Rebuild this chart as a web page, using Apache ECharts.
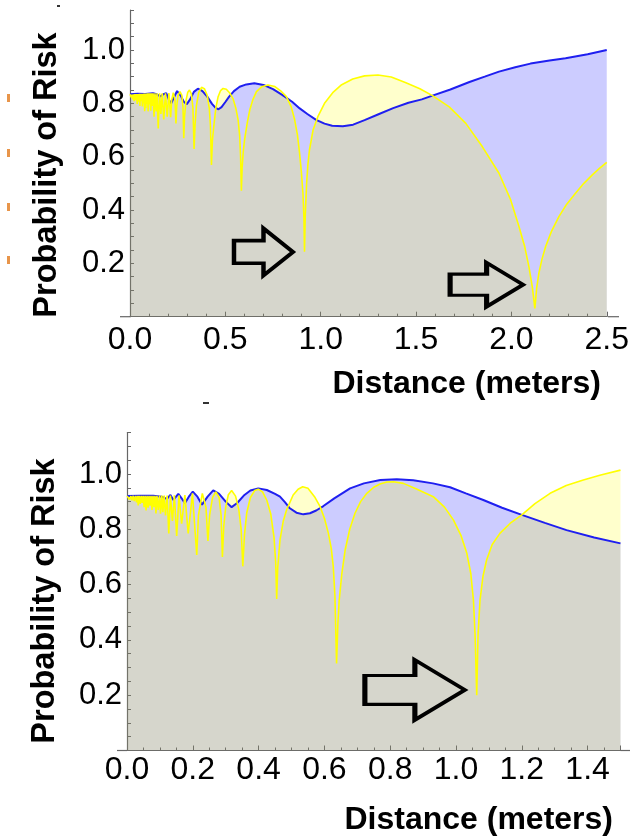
<!DOCTYPE html>
<html>
<head>
<meta charset="utf-8">
<script src="https://cdn.jsdelivr.net/npm/echarts@6/dist/echarts.min.js"></script>
<style>
  html, body { margin: 0; padding: 0; background: #fff; }
  #main { width: 632px; height: 837px; }
</style>
</head>
<body>
<div id="main"></div>
<script>
// upper plot (0 - 2.5 m)
var topBlueX = [0.000, 0.040, 0.080, 0.120, 0.140, 0.160, 0.175, 0.190, 0.205, 0.216, 0.230, 0.247, 0.265, 0.282, 0.298, 0.315, 0.335, 0.356, 0.380, 0.405, 0.430, 0.450, 0.464, 0.480, 0.500, 0.520, 0.545, 0.575, 0.610, 0.652, 0.700, 0.750, 0.800, 0.850, 0.890, 0.930, 0.976, 1.020, 1.060, 1.116, 1.170, 1.230, 1.300, 1.380, 1.460, 1.530, 1.586, 1.680, 1.780, 1.860, 1.935, 2.020, 2.100, 2.200, 2.284, 2.400, 2.500];
var topBlueY = [0.834, 0.836, 0.835, 0.838, 0.834, 0.826, 0.834, 0.838, 0.812, 0.800, 0.822, 0.846, 0.830, 0.806, 0.797, 0.815, 0.843, 0.855, 0.846, 0.825, 0.798, 0.782, 0.778, 0.786, 0.805, 0.825, 0.846, 0.862, 0.871, 0.875, 0.869, 0.853, 0.831, 0.806, 0.781, 0.760, 0.738, 0.724, 0.716, 0.714, 0.720, 0.737, 0.758, 0.782, 0.802, 0.815, 0.829, 0.852, 0.880, 0.900, 0.919, 0.935, 0.949, 0.961, 0.969, 0.984, 1.000];

var topYellowX = [0.000, 0.004, 0.007, 0.010, 0.014, 0.018, 0.022, 0.026, 0.030, 0.034, 0.038, 0.042, 0.045, 0.049, 0.052, 0.055, 0.058, 0.062, 0.065, 0.068, 0.071, 0.074, 0.077, 0.080, 0.083, 0.086, 0.089, 0.092, 0.095, 0.099, 0.102, 0.105, 0.109, 0.113, 0.117, 0.121, 0.126, 0.131, 0.137, 0.142, 0.148, 0.155, 0.162, 0.169, 0.177, 0.186, 0.195, 0.204, 0.213, 0.218, 0.227, 0.236, 0.241, 0.245, 0.252, 0.262, 0.272, 0.278, 0.282, 0.286, 0.294, 0.303, 0.312, 0.322, 0.330, 0.336, 0.341, 0.348, 0.360, 0.375, 0.390, 0.405, 0.416, 0.422, 0.427, 0.432, 0.439, 0.450, 0.462, 0.475, 0.488, 0.505, 0.522, 0.540, 0.555, 0.567, 0.575, 0.580, 0.584, 0.588, 0.594, 0.601, 0.615, 0.628, 0.645, 0.663, 0.690, 0.723, 0.760, 0.790, 0.820, 0.845, 0.863, 0.878, 0.889, 0.899, 0.907, 0.912, 0.915, 0.919, 0.926, 0.933, 0.941, 0.960, 0.985, 1.020, 1.063, 1.110, 1.168, 1.230, 1.300, 1.370, 1.447, 1.520, 1.586, 1.674, 1.761, 1.848, 1.935, 1.995, 2.040, 2.070, 2.092, 2.110, 2.123, 2.132, 2.144, 2.160, 2.179, 2.210, 2.249, 2.290, 2.336, 2.380, 2.423, 2.460, 2.500];
var topYellowY = [0.834, 0.832, 0.822, 0.833, 0.815, 0.834, 0.808, 0.835, 0.812, 0.835, 0.798, 0.835, 0.806, 0.836, 0.790, 0.836, 0.808, 0.836, 0.788, 0.836, 0.800, 0.837, 0.770, 0.837, 0.782, 0.837, 0.798, 0.838, 0.770, 0.838, 0.796, 0.838, 0.772, 0.838, 0.790, 0.838, 0.750, 0.838, 0.770, 0.838, 0.706, 0.838, 0.760, 0.838, 0.740, 0.838, 0.750, 0.839, 0.748, 0.810, 0.840, 0.812, 0.725, 0.790, 0.830, 0.844, 0.830, 0.785, 0.669, 0.752, 0.812, 0.842, 0.850, 0.835, 0.785, 0.629, 0.720, 0.790, 0.840, 0.860, 0.855, 0.830, 0.780, 0.715, 0.569, 0.660, 0.712, 0.782, 0.825, 0.848, 0.856, 0.853, 0.840, 0.818, 0.782, 0.738, 0.680, 0.600, 0.472, 0.560, 0.620, 0.665, 0.728, 0.775, 0.815, 0.844, 0.862, 0.869, 0.863, 0.847, 0.825, 0.788, 0.740, 0.682, 0.615, 0.540, 0.463, 0.370, 0.244, 0.380, 0.500, 0.572, 0.625, 0.700, 0.750, 0.800, 0.840, 0.870, 0.891, 0.903, 0.906, 0.899, 0.877, 0.855, 0.829, 0.787, 0.725, 0.637, 0.538, 0.440, 0.337, 0.262, 0.187, 0.110, 0.031, 0.105, 0.163, 0.215, 0.262, 0.320, 0.375, 0.422, 0.463, 0.500, 0.531, 0.555, 0.579];

// lower plot (0 - 1.5 m)
var botBlueX = [0.000, 0.040, 0.080, 0.105, 0.121, 0.132, 0.141, 0.156, 0.166, 0.176, 0.188, 0.200, 0.214, 0.228, 0.245, 0.262, 0.280, 0.300, 0.318, 0.335, 0.355, 0.375, 0.399, 0.425, 0.450, 0.465, 0.480, 0.495, 0.515, 0.536, 0.556, 0.575, 0.597, 0.630, 0.678, 0.720, 0.770, 0.820, 0.870, 0.930, 0.982, 1.030, 1.083, 1.140, 1.200, 1.270, 1.336, 1.420, 1.500];
var botBlueY = [0.920, 0.921, 0.921, 0.918, 0.910, 0.924, 0.906, 0.928, 0.912, 0.894, 0.918, 0.936, 0.918, 0.889, 0.918, 0.941, 0.928, 0.900, 0.880, 0.895, 0.922, 0.940, 0.948, 0.942, 0.928, 0.918, 0.898, 0.876, 0.860, 0.854, 0.858, 0.868, 0.884, 0.912, 0.948, 0.966, 0.978, 0.981, 0.977, 0.966, 0.952, 0.930, 0.906, 0.878, 0.852, 0.823, 0.797, 0.770, 0.749];

var botYellowX = [0.000, 0.004, 0.008, 0.012, 0.015, 0.019, 0.022, 0.026, 0.029, 0.032, 0.034, 0.037, 0.040, 0.043, 0.046, 0.049, 0.052, 0.055, 0.058, 0.061, 0.064, 0.067, 0.070, 0.073, 0.076, 0.079, 0.082, 0.085, 0.088, 0.091, 0.095, 0.099, 0.102, 0.106, 0.109, 0.113, 0.117, 0.122, 0.127, 0.132, 0.138, 0.144, 0.151, 0.158, 0.166, 0.176, 0.186, 0.199, 0.212, 0.217, 0.229, 0.240, 0.246, 0.251, 0.260, 0.270, 0.280, 0.286, 0.290, 0.294, 0.300, 0.308, 0.318, 0.330, 0.340, 0.347, 0.352, 0.357, 0.364, 0.375, 0.388, 0.399, 0.412, 0.425, 0.437, 0.447, 0.452, 0.455, 0.458, 0.465, 0.475, 0.485, 0.505, 0.520, 0.534, 0.550, 0.570, 0.587, 0.600, 0.612, 0.621, 0.627, 0.632, 0.637, 0.641, 0.645, 0.653, 0.663, 0.677, 0.693, 0.710, 0.729, 0.750, 0.769, 0.790, 0.810, 0.840, 0.880, 0.931, 0.965, 0.992, 1.015, 1.033, 1.045, 1.053, 1.058, 1.063, 1.067, 1.073, 1.082, 1.093, 1.110, 1.134, 1.165, 1.200, 1.240, 1.286, 1.335, 1.387, 1.440, 1.500];
var botYellowY = [0.920, 0.918, 0.908, 0.920, 0.905, 0.921, 0.902, 0.921, 0.897, 0.921, 0.886, 0.921, 0.892, 0.921, 0.895, 0.921, 0.880, 0.921, 0.868, 0.921, 0.878, 0.921, 0.885, 0.921, 0.870, 0.921, 0.880, 0.921, 0.857, 0.921, 0.870, 0.922, 0.856, 0.922, 0.862, 0.922, 0.850, 0.922, 0.785, 0.922, 0.830, 0.923, 0.776, 0.923, 0.820, 0.924, 0.785, 0.930, 0.707, 0.850, 0.930, 0.880, 0.758, 0.850, 0.915, 0.935, 0.915, 0.850, 0.700, 0.810, 0.880, 0.925, 0.940, 0.920, 0.870, 0.800, 0.666, 0.780, 0.860, 0.915, 0.940, 0.945, 0.935, 0.905, 0.855, 0.770, 0.680, 0.548, 0.660, 0.761, 0.830, 0.870, 0.924, 0.945, 0.954, 0.948, 0.918, 0.882, 0.840, 0.786, 0.730, 0.665, 0.560, 0.315, 0.460, 0.544, 0.640, 0.725, 0.800, 0.858, 0.900, 0.930, 0.952, 0.964, 0.971, 0.972, 0.966, 0.946, 0.918, 0.880, 0.834, 0.778, 0.713, 0.640, 0.544, 0.420, 0.200, 0.420, 0.544, 0.630, 0.689, 0.745, 0.786, 0.822, 0.852, 0.893, 0.930, 0.958, 0.978, 0.996, 1.014];

// hollow arrows: [x, y] in data units, plus drawn size
var topArrows = [[0.70, 0.243], [1.87, 0.12]];
var topArrowSizes = [[59, 47], [73, 44]];
var botArrows = [[0.875, 0.219]];
var botArrowSizes = [[100, 60]];

var FONT = '"Liberation Sans", Arial, sans-serif';
var AXIS = '#666';
var arrowPath = 'path://M0,26 L50,26 L50,0 L100,50 L50,100 L50,74 L0,74 Z';

function pairs(xs, ys) {
    var out = [];
    for (var i = 0; i < xs.length; i++) {
        out.push([xs[i], ys[i]]);
    }
    return out;
}

function arrowMarks(list, sizes) {
    var out = [];
    for (var i = 0; i < list.length; i++) {
        out.push({ coord: list[i], symbolSize: sizes[i] });
    }
    return out;
}

function yLabel(v) {
    var k = Math.round(v * 20);
    return (k > 0 && k % 4 === 0) ? (k / 20).toFixed(1) : '';
}

function xLabelFifth(v) {
    var k = Math.round(v * 10);
    return (k % 2 === 0) ? (k / 10).toFixed(1) : '';
}

function xAxisOpt(idx, max, interval, minorSplit, fmt, margin) {
    return {
        type: 'value', gridIndex: idx, min: 0, max: max, interval: interval,
        axisLine: { show: true, onZero: false, lineStyle: { color: AXIS, width: 1.2 } },
        axisTick: { show: true, inside: true, length: 5, lineStyle: { color: AXIS } },
        minorTick: { show: true, splitNumber: minorSplit, length: 3, lineStyle: { color: AXIS } },
        splitLine: { show: false },
        axisLabel: { color: '#000', fontSize: 32, fontFamily: FONT, margin: margin, formatter: fmt }
    };
}

function yAxisOpt(idx) {
    return {
        type: 'value', gridIndex: idx, min: 0, max: 1.15, interval: 0.05,
        axisLine: { show: true, onZero: false, lineStyle: { color: AXIS, width: 1.2 } },
        axisTick: { show: true, inside: true, length: 4, lineStyle: { color: AXIS } },
        splitLine: { show: false },
        axisLabel: { color: '#000', fontSize: 31, fontFamily: FONT, margin: 5, formatter: yLabel }
    };
}

function curve(name, idx, data, lineColor, width, fill, marks, markSizes) {
    var s = {
        name: name, type: 'line', xAxisIndex: idx, yAxisIndex: idx,
        data: data, showSymbol: false, symbol: 'none', smooth: false,
        lineStyle: { color: lineColor, width: width },
        areaStyle: { color: fill, opacity: 1 },
        animation: false
    };
    if (marks) {
        s.markPoint = {
            symbol: arrowPath,
            label: { show: false },
            itemStyle: { color: 'rgba(0,0,0,0)', borderColor: '#000', borderWidth: 4 },
            data: arrowMarks(marks, markSizes),
            animation: false
        };
    }
    return s;
}

// small leftover marks along the left edge of the original picture
function speck(x, y, w, h, color) {
    return { type: 'rect', shape: { x: x, y: y, width: w, height: h }, style: { fill: color } };
}

var chart = echarts.init(document.getElementById('main'), null, { renderer: 'canvas' });

chart.setOption({
    backgroundColor: '#fff',
    animation: false,
    grid: [
        { left: 130, top: 10, width: 478, height: 306.7 },
        { left: 127, top: 432.5, width: 493.5, height: 318 }
    ],
    xAxis: [
        xAxisOpt(0, 2.5, 0.5, 5, function (v) { return v.toFixed(1); }, 7),
        xAxisOpt(1, 1.5, 0.2, 4, xLabelFifth, 4)
    ],
    yAxis: [yAxisOpt(0), yAxisOpt(1)],
    series: [
        curve('blue top', 0, pairs(topBlueX, topBlueY), '#1f1ff0', 2, 'rgba(0,0,255,0.2)'),
        curve('yellow top', 0, pairs(topYellowX, topYellowY), '#ffff00', 1.6, 'rgba(255,255,0,0.2)', topArrows, topArrowSizes),
        curve('blue bottom', 1, pairs(botBlueX, botBlueY), '#1f1ff0', 2, 'rgba(0,0,255,0.2)'),
        curve('yellow bottom', 1, pairs(botYellowX, botYellowY), '#ffff00', 1.6, 'rgba(255,255,0,0.2)', botArrows, botArrowSizes)
    ],
    graphic: [
        // axis stubs past the plot ends
        { type: 'line', shape: { x1: 120, y1: 316.7, x2: 130, y2: 316.7 }, style: { stroke: AXIS, lineWidth: 1.2 } },
        { type: 'line', shape: { x1: 608, y1: 316.7, x2: 619, y2: 316.7 }, style: { stroke: AXIS, lineWidth: 1.2 } },
        { type: 'line', shape: { x1: 117, y1: 750.5, x2: 127, y2: 750.5 }, style: { stroke: AXIS, lineWidth: 1.2 } },
        { type: 'line', shape: { x1: 620.5, y1: 750.5, x2: 630, y2: 750.5 }, style: { stroke: AXIS, lineWidth: 1.2 } },
        speck(7, 94, 3, 8, '#e8954a'),
        speck(7, 149, 3, 8, '#e8954a'),
        speck(7, 203, 3, 8, '#e8954a'),
        speck(7, 256, 3, 8, '#e8954a'),
        speck(57, 5, 3, 2, '#333'),
        speck(203, 402, 6, 2, '#333'),
        {
            type: 'text', x: 47, y: 175, rotation: Math.PI / 2,
            style: { text: 'Probability of Risk', font: 'bold 32.5px ' + FONT, fill: '#000', textAlign: 'center', textVerticalAlign: 'middle' }
        },
        {
            type: 'text', x: 45, y: 601, rotation: Math.PI / 2,
            style: { text: 'Probability of Risk', font: 'bold 32.5px ' + FONT, fill: '#000', textAlign: 'center', textVerticalAlign: 'middle' }
        },
        {
            type: 'text', x: 601, y: 384,
            style: { text: 'Distance (meters)', font: 'bold 32px ' + FONT, fill: '#000', textAlign: 'right', textVerticalAlign: 'middle' }
        },
        {
            type: 'text', x: 613, y: 820,
            style: { text: 'Distance (meters)', font: 'bold 32px ' + FONT, fill: '#000', textAlign: 'right', textVerticalAlign: 'middle' }
        }
    ]
});
</script>
</body>
</html>
